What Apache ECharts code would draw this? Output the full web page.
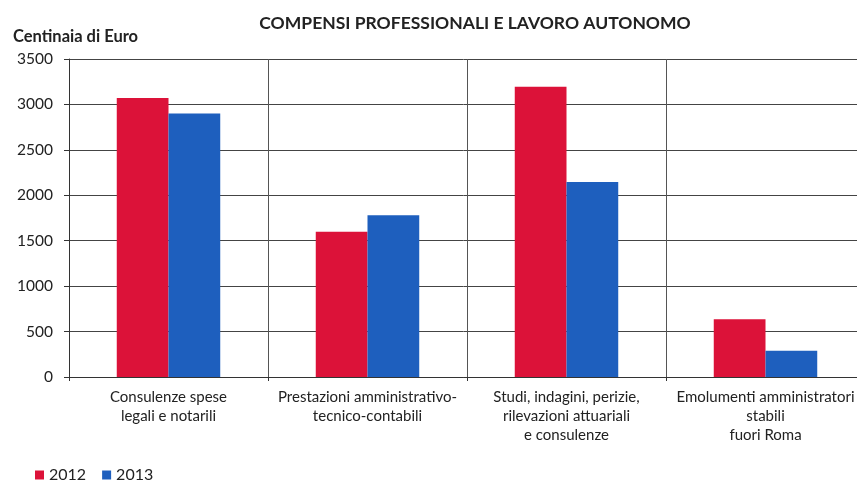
<!DOCTYPE html>
<html>
<head>
<meta charset="utf-8">
<script src="https://cdn.jsdelivr.net/npm/echarts@6/dist/echarts.min.js"></script>
<style>
  html, body { margin: 0; padding: 0; background: #fff; }
  #chart { width: 857px; height: 481px; }
</style>
</head>
<body>
<div id="chart"></div>
<script>
const categories = [
  'Consulenze spese\nlegali e notarili',
  'Prestazioni amministrativo-\ntecnico-contabili',
  'Studi, indagini, perizie,\nrilevazioni attuariali\ne consulenze',
  'Emolumenti amministratori\nstabili\nfuori Roma'
]
const values2012 = [3070, 1600, 3195, 635]
const values2013 = [2900, 1780, 2145, 290]

const fontFamily = 'Lato, "Open Sans", sans-serif'
const chart = echarts.init(document.getElementById('chart'))

chart.setOption({
  backgroundColor: '#fff',
  animation: false,
  textStyle: { fontFamily },
  title: [
    {
      text: 'COMPENSI PROFESSIONALI E LAVORO AUTONOMO',
      left: 470,
      textAlign: 'center',
      top: 9,
      textStyle: { fontSize: 17.5, fontWeight: 'bold', color: '#222', fontFamily }
    },
    {
      text: 'Centinaia di Euro',
      left: 8,
      top: 23,
      textStyle: { fontSize: 16.5, fontWeight: 'bold', color: '#222', fontFamily }
    }
  ],
  legend: {
    data: ['2012', '2013'],
    left: 30,
    top: 462,
    itemWidth: 9,
    itemHeight: 9,
    itemGap: 16,
    icon: 'rect',
    textStyle: { fontSize: 16, color: '#222', fontFamily }
  },
  grid: { left: 69, width: 796, top: 59, height: 318, outerBoundsMode: 'none' },
  xAxis: {
    type: 'category',
    data: categories,
    axisLine: { lineStyle: { color: '#333', width: 1 } },
    axisTick: { show: true, length: 4, lineStyle: { color: '#333' } },
    splitLine: { show: true, lineStyle: { color: '#555', width: 1 } },
    axisLabel: { color: '#222', fontSize: 15, lineHeight: 19, margin: 11, interval: 0, fontFamily }
  },
  yAxis: {
    type: 'value',
    min: 0,
    max: 3500,
    interval: 500,
    axisLine: { show: true, lineStyle: { color: '#333', width: 1 } },
    axisTick: { show: true, length: 5, lineStyle: { color: '#333' } },
    splitLine: { lineStyle: { color: '#444', width: 1 } },
    axisLabel: { color: '#222', fontSize: 15.5, margin: 16, fontFamily, formatter: (v) => String(v) }
  },
  series: [
    {
      name: '2012',
      type: 'bar',
      data: values2012,
      barGap: '0%',
      barCategoryGap: '48%',
      itemStyle: { color: '#dc1239' }
    },
    {
      name: '2013',
      type: 'bar',
      data: values2013,
      barGap: '0%',
      barCategoryGap: '48%',
      itemStyle: { color: '#1e5fbe' }
    }
  ]
})
</script>
</body>
</html>
